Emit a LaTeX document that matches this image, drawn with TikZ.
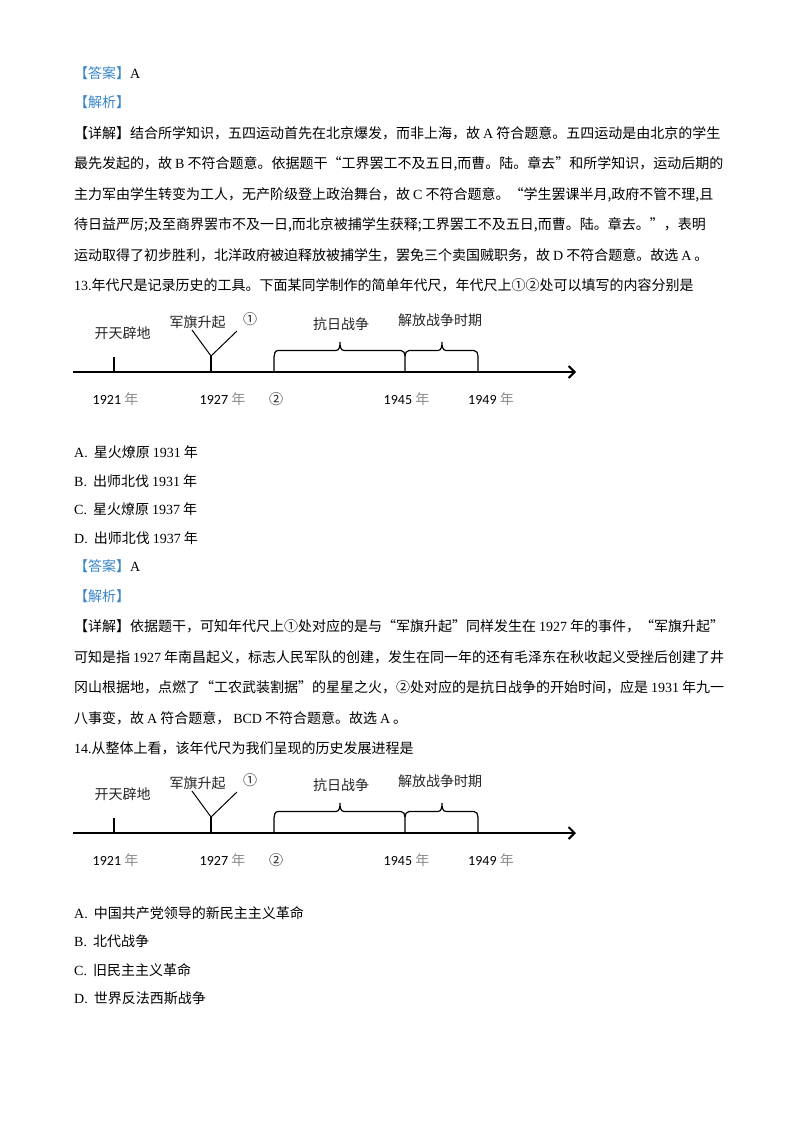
\documentclass[tikz,border=0pt]{standalone}
\usepackage{fontspec}
\usepackage{xcolor}
\usepackage{tikz}
\usetikzlibrary{arrows.meta}
\setmainfont{Liberation Serif}
\newfontfamily\cjk{Noto Sans CJK SC}
\newfontfamily\carl{Carlito}
\definecolor{ansblue}{RGB}{58,134,200}

\XeTeXinterchartokenstate=1
\newXeTeXintercharclass\cjkcls
\newXeTeXintercharclass\pctcls
\newcount\cc
\def\setcjk#1#2{\cc=#1 \loop\XeTeXcharclass\cc=\cjkcls \advance\cc by 1 \ifnum\cc<#2 \repeat}
\setcjk{"4E00}{"A000}
\setcjk{"3000}{"3040}
\setcjk{"FF00}{"FFF0}
\setcjk{"2460}{"2474}
\setcjk{"2018}{"201A}
\setcjk{"201C}{"201E}
\XeTeXcharclass`\,=\pctcls
\XeTeXcharclass`\;=\pctcls
\XeTeXcharclass`\.=\pctcls
\XeTeXinterchartoks 0 \cjkcls = {\hskip3pt\cjk}
\XeTeXinterchartoks \cjkcls 0 = {\hskip3pt\rmfamily}
\XeTeXinterchartoks \pctcls \cjkcls = {\cjk}
\XeTeXinterchartoks 4095 \cjkcls = {\cjk}
\XeTeXinterchartoks \cjkcls 4095 = {\rmfamily}

\begin{document}
\begin{tikzpicture}[x=1pt, y=-1pt,
  txtrow/.style={anchor=west, inner sep=0pt, font=\fontsize{14}{16}\selectfont},
  tl/.style={inner sep=0pt, font=\fontsize{14}{16}\selectfont\cjk, text=black!85},
  yr/.style={inner sep=0pt, font=\fontsize{14}{16}\selectfont\carl, text=black}]
    \fill[white] (0,0) rectangle (800,1132);
    \useasboundingbox (0,0) rectangle (800,1132);

    \node[txtrow] (ans13) at (74,73) {\textcolor{ansblue}{【答案】}A};
    \node[txtrow] (jx13) at (74,102) {\textcolor{ansblue}{【解析】}};
    \node[txtrow] (d1) at (74,133.5) {【详解】结合所学知识，五四运动首先在北京爆发，而非上海，故A符合题意。五四运动是由北京的学生};
    \node[txtrow] (d2) at (74,163.5) {最先发起的，故B不符合题意。依据题干“工界罢工不及五日,而曹。陆。章去”和所学知识，运动后期的};
    \node[txtrow] (d3) at (74,194.5) {主力军由学生转变为工人，无产阶级登上政治舞台，故C不符合题意。“学生罢课半月,政府不管不理,且};
    \node[txtrow] (d4) at (74,225) {待日益严厉;及至商界罢市不及一日,而北京被捕学生获释;工界罢工不及五日,而曹。陆。章去。”，表明};
    \node[txtrow] (d5) at (74,255.5) {运动取得了初步胜利，北洋政府被迫释放被捕学生，罢免三个卖国贼职务，故D不符合题意。故选A。};
    \node[txtrow] (q13) at (74,285) {13.年代尺是记录历史的工具。下面某同学制作的简单年代尺，年代尺上①②处可以填写的内容分别是};

    \foreach \dy/\k in {0/a, 461/b}{
    \begin{scope}[shift={(0,\dy)}]
        \draw[line width=2pt, -{Straight Barb[length=6pt,width=12pt]}] (73,372) -- (576,372);
        \draw[line width=1.4pt] (114,372) -- (114,357);
        \draw[line width=1.4pt] (211,372) -- (211,356);
        \draw[line width=1pt] (192,330) -- (211,356) -- (237,331);
        \draw[line width=1.2pt] (274,372) -- (274,357) to[out=90,in=180] (278,350.5) -- (336,350.5)
            to[out=0,in=-90] (340,342) to[out=-90,in=180] (344,350.5) -- (401,350.5)
            to[out=0,in=90] (405,356) -- (405,372);
        \draw[line width=1.2pt] (405,356) to[out=90,in=180] (409,350.5) -- (438,350.5)
            to[out=0,in=-90] (442,342) to[out=-90,in=180] (446,350.5) -- (474,350.5)
            to[out=0,in=90] (478,356) -- (478,372);
        \node[tl] (kt\k) at (122.5,333) {开天辟地};
        \node[tl] (jq\k) at (197.5,322) {军旗升起};
        \node[tl] (one\k) at (250,319) {①};
        \node[tl] (kr\k) at (341,324) {抗日战争};
        \node[tl] (jf\k) at (440,320) {解放战争时期};
        \node[yr] (ya\k) at (115.5,399.5) {1921 \textcolor{black!45}{年}};
        \node[yr] (yb\k) at (222.5,399.5) {1927 \textcolor{black!45}{年}};
        \node[tl] (two\k) at (276,399.5) {②};
        \node[yr] (yc\k) at (406.5,399.5) {1945 \textcolor{black!45}{年}};
        \node[yr] (yd\k) at (491,399.5) {1949 \textcolor{black!45}{年}};
    \end{scope}
    }

    \node[txtrow] (o13a) at (74,452.5) {A.\hspace{6pt}星火燎原1931年};
    \node[txtrow] (o13b) at (74,481) {B.\hspace{6pt}出师北伐1931年};
    \node[txtrow] (o13c) at (74,509.5) {C.\hspace{6pt}星火燎原1937年};
    \node[txtrow] (o13d) at (74,538) {D.\hspace{6pt}出师北伐1937年};

    \node[txtrow] (ans14) at (74,566) {\textcolor{ansblue}{【答案】}A};
    \node[txtrow] (jx14) at (74,596) {\textcolor{ansblue}{【解析】}};
    \node[txtrow] (e1) at (74,626.5) {【详解】依据题干，可知年代尺上①处对应的是与“军旗升起”同样发生在1927年的事件，“军旗升起”};
    \node[txtrow] (e2) at (74,657) {可知是指1927年南昌起义，标志人民军队的创建，发生在同一年的还有毛泽东在秋收起义受挫后创建了井};
    \node[txtrow] (e3) at (74,687.5) {冈山根据地，点燃了“工农武装割据”的星星之火，②处对应的是抗日战争的开始时间，应是1931年九一};
    \node[txtrow] (e4) at (74,718) {八事变，故A符合题意，BCD不符合题意。故选A。};
    \node[txtrow] (q14) at (74,748.5) {14.从整体上看，该年代尺为我们呈现的历史发展进程是};

    \node[txtrow] (o14a) at (74,913) {A.\hspace{6pt}中国共产党领导的新民主主义革命};
    \node[txtrow] (o14b) at (74,941.5) {B.\hspace{6pt}北代战争};
    \node[txtrow] (o14c) at (74,970) {C.\hspace{6pt}旧民主主义革命};
    \node[txtrow] (o14d) at (74,998.5) {D.\hspace{6pt}世界反法西斯战争};
\end{tikzpicture}
\end{document}
